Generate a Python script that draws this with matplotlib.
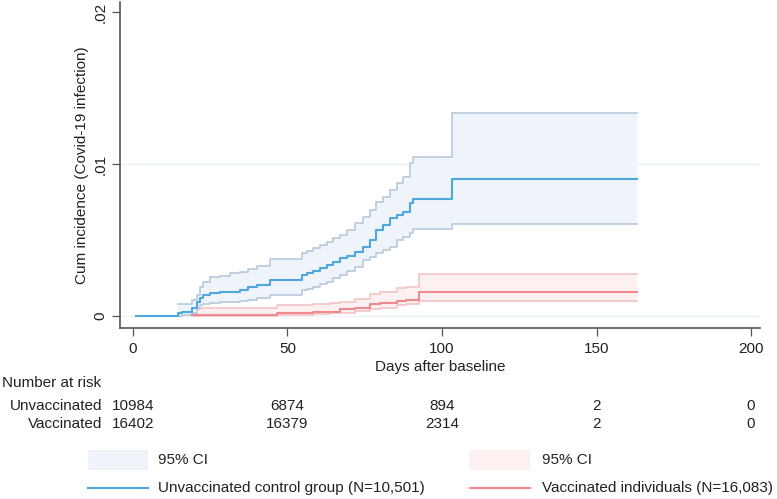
import matplotlib
matplotlib.use("Agg")
import matplotlib.pyplot as plt
import matplotlib.transforms as mtrans
from matplotlib.patches import Rectangle
from matplotlib.lines import Line2D
from matplotlib import font_manager

# ---------------- data ----------------
blue_days = [1, 14.7, 15.8, 19.0, 20.6, 21.7, 22.8, 24.9, 28.2, 31.4,
             34.6, 37.3, 40.0, 44.3, 54.6, 56.2, 58.4, 60.5, 62.7, 64.8,
             67.0, 69.2, 72.0, 74.5, 76.7, 78.8, 81.0, 83.2, 85.3, 87.4,
             89.6, 90.6, 103.3, 163]
blue_vals = [0, 0.0002, 0.00028, 0.00053, 0.00094, 0.00118, 0.00138, 0.00149, 0.00155, 0.0016,
             0.00171, 0.00193, 0.00204, 0.00237, 0.0027, 0.00281, 0.00298, 0.00314, 0.00336, 0.00357,
             0.0038, 0.00395, 0.0042, 0.00456, 0.005, 0.00566, 0.00599, 0.00643, 0.00664, 0.00686,
             0.00741, 0.00768, 0.00901, 0.00901]
blue_ci_days = blue_days[1:]
blue_upper = [0.00079, 0.00079, 0.00105, 0.00138, 0.00193, 0.00226, 0.00259, 0.00265, 0.00281, 0.0029,
              0.00307, 0.0033, 0.00373, 0.00413, 0.0043, 0.00445, 0.00467, 0.0049, 0.00511, 0.00535,
              0.00566, 0.0061, 0.00653, 0.00697, 0.00751, 0.00785, 0.00829, 0.00873, 0.00916, 0.01004,
              0.01048, 0.01338, 0.01338]
blue_lower = [0.0, 0.00005, 0.00018, 0.00045, 0.0007, 0.00079, 0.00085, 0.0009, 0.00094, 0.001,
              0.00105, 0.0012, 0.00138, 0.00171, 0.0018, 0.00193, 0.0021, 0.00226, 0.00248, 0.0027,
              0.00295, 0.00324, 0.00368, 0.0039, 0.00412, 0.00435, 0.00456, 0.005, 0.0052, 0.00544,
              0.0057, 0.00605, 0.00605]

red_days = [19, 46.5, 58.4, 63.8, 67, 72, 76.7, 80, 85.3, 88.4, 92.6, 163]
red_vals = [0.00007, 0.00022, 0.00025, 0.00028, 0.00044, 0.0005, 0.00077, 0.00083, 0.00099, 0.00105, 0.00156, 0.00156]
red_upper = [0.00055, 0.00072, 0.00078, 0.00083, 0.00095, 0.0011, 0.00145, 0.0016, 0.00182, 0.00193, 0.00274, 0.00274]
red_lower = [0.0, 0.00005, 0.0001, 0.00018, 0.00022, 0.0003, 0.00044, 0.00055, 0.00072, 0.00079, 0.00096, 0.00096]

x_ticks = [0, 50, 100, 150, 200]
y_ticks = [0, 0.01, 0.02]
y_ticklabels = ["0", ".01", ".02"]
risk_unvacc = ["10984", "6874", "894", "2", "0"]
risk_vacc = ["16402", "16379", "2314", "2", "0"]

# ---------------- style ----------------
avail = {f.name for f in font_manager.fontManager.ttflist}
fam = [f for f in ["Liberation Sans Narrow", "Liberation Sans", "DejaVu Sans"] if f in avail]
plt.rcParams['font.family'] = fam
FS = 11

blue = "#4fa8dc"
blue_ci_edge = "#b7c9da"
blue_fill = "#eef4fa"
red = "#ef8a90"
red_ci_edge = "#f3c3c6"
red_fill = "#fdf0f0"
txt = "#222222"

fig = plt.figure(figsize=(7.77, 4.99), dpi=100)
W, H = 777, 499
ax = fig.add_axes([120 / W, 1 - 328 / H, (760 - 120) / W, (328 - 2) / H])

# CIs
ax.fill_between(blue_ci_days, blue_lower, blue_upper, step="post", color=blue_fill, lw=0, zorder=1)
ax.step(blue_ci_days, blue_upper, where="post", color=blue_ci_edge, lw=1.2, zorder=2)
ax.step(blue_ci_days, blue_lower, where="post", color=blue_ci_edge, lw=1.2, zorder=2)
ax.fill_between(red_days, red_lower, red_upper, step="post", color=red_fill, lw=0, zorder=1)
ax.step(red_days, red_upper, where="post", color=red_ci_edge, lw=1.2, zorder=2)
ax.step(red_days, red_lower, where="post", color=red_ci_edge, lw=1.2, zorder=2)
# estimates
ax.step(blue_days, blue_vals, where="post", color=blue, lw=1.5, zorder=3)
ax.step(red_days, red_vals, where="post", color=red, lw=1.5, zorder=3)

ax.set_xlim(-4.2, 202.9)
ax.set_ylim(-0.00079, 0.02066)
for yv in [0, 0.01]:
    ax.axhline(yv, color="#eef3f6", lw=1.0, zorder=0)

ax.set_xticks(x_ticks)
ax.set_xticklabels([str(v) for v in x_ticks], fontsize=FS, color=txt)
ax.set_yticks(y_ticks)
ax.set_yticklabels(y_ticklabels, fontsize=FS, color=txt, rotation=90, va="center")
ax.tick_params(axis="both", direction="out", length=6, width=0.9, color="#555555", pad=4)
ax.tick_params(axis="y", pad=3)
for s in ["top", "right"]:
    ax.spines[s].set_visible(False)
for s in ["left", "bottom"]:
    ax.spines[s].set_color("#555555")
    ax.spines[s].set_linewidth(1.2)
ax.set_xlabel("Days after baseline", fontsize=FS, color=txt, labelpad=3)
ax.set_ylabel("Cum incidence (Covid-19 infection)", fontsize=FS, color=txt, labelpad=3)

# risk table
trans = mtrans.blended_transform_factory(ax.transData, fig.transFigure)
fig.text(2 / W, 1 - 383 / H, "Number at risk", fontsize=FS, color=txt, va="center", ha="left")
fig.text(102 / W, 1 - 406 / H, "Unvaccinated", fontsize=FS, color=txt, va="center", ha="right")
fig.text(102 / W, 1 - 424 / H, "Vaccinated", fontsize=FS, color=txt, va="center", ha="right")
for xv, a, b in zip(x_ticks, risk_unvacc, risk_vacc):
    ax.text(xv, 1 - 406 / H, a, transform=trans, fontsize=FS, color=txt, va="center", ha="center")
    ax.text(xv, 1 - 424 / H, b, transform=trans, fontsize=FS, color=txt, va="center", ha="center")

# legend
def leg_patch(x0, color):
    fig.patches.append(Rectangle((x0 / W, 1 - 470 / H), 60 / W, 20 / H, transform=fig.transFigure,
                                 facecolor=color, edgecolor="none"))
def leg_line(x0, color):
    fig.lines.append(Line2D([x0 / W, (x0 + 60) / W], [1 - 488 / H] * 2, transform=fig.transFigure,
                            color=color, lw=1.6))
leg_patch(88, blue_fill)
leg_line(88, blue)
leg_patch(470, red_fill)
leg_line(470, red)
fig.text(158 / W, 1 - 460 / H, "95% CI", fontsize=FS, color=txt, va="center")
fig.text(158 / W, 1 - 488 / H, "Unvaccinated control group (N=10,501)", fontsize=FS, color=txt, va="center")
fig.text(542 / W, 1 - 460 / H, "95% CI", fontsize=FS, color=txt, va="center")
fig.text(542 / W, 1 - 488 / H, "Vaccinated individuals (N=16,083)", fontsize=FS, color=txt, va="center")

fig.savefig("out.png", dpi=100)
